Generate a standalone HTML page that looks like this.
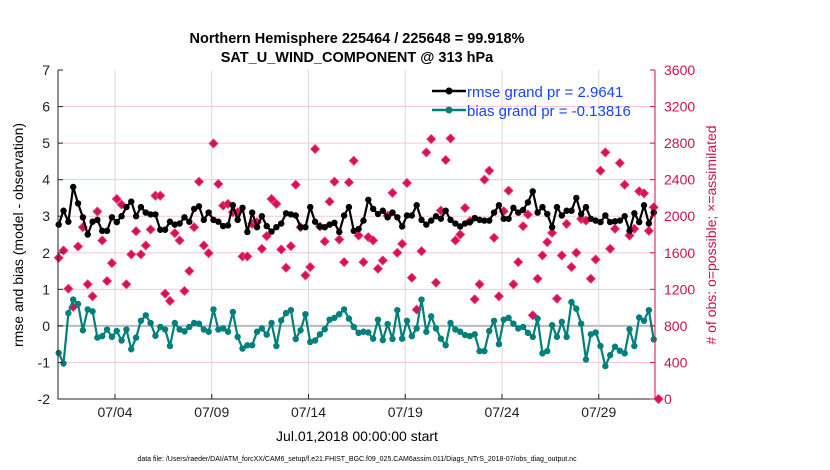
<!DOCTYPE html>
<html><head><meta charset="utf-8"><style>
html,body{margin:0;padding:0;background:#fff;}
svg{display:block;font-family:"Liberation Sans",sans-serif;}
</style></head><body>
<svg id="chart" width="830" height="470" viewBox="0 0 830 470" xmlns="http://www.w3.org/2000/svg">
<rect width="830" height="470" fill="#fff"/>
<text x="357" y="43" font-size="14.5" font-weight="bold" text-anchor="middle">Northern Hemisphere 225464 / 225648 = 99.918%</text>
<text x="357" y="62" font-size="14.5" font-weight="bold" text-anchor="middle">SAT_U_WIND_COMPONENT @ 313 hPa</text>
<g id="grid"></g>
<g id="marks"></g>
<g id="axes"></g>
<text transform="translate(23,235) rotate(-90)" font-size="14" text-anchor="middle">rmse and bias (model - observation)</text>
<text transform="translate(716,235) rotate(-90)" font-size="14" fill="#d0104c" text-anchor="middle"># of obs: o=possible; ×=assimilated</text>
<text x="357" y="441" font-size="14" text-anchor="middle">Jul.01,2018 00:00:00 start</text>
<text x="357" y="461" font-size="7" text-anchor="middle">data file: /Users/raeder/DAI/ATM_forcXX/CAM6_setup/f.e21.FHIST_BGC.f09_025.CAM6assim.011/Diags_NTrS_2018-07/obs_diag_output.nc</text>
<g>
<line x1="432" y1="91" x2="466" y2="91" stroke="#000" stroke-width="2.5"/><circle cx="449" cy="91" r="3.5" fill="#000"/>
<text x="467" y="97" font-size="15" fill="#1545ff">rmse grand pr = 2.9641</text>
<line x1="432" y1="110" x2="466" y2="110" stroke="#00807a" stroke-width="2.5"/><circle cx="449" cy="110" r="3.5" fill="#00807a"/>
<text x="467" y="116" font-size="15" fill="#1545ff">bias grand pr = -0.13816</text>
</g>
</svg>
<script>
const rmse=[2.77,3.15,2.85,3.8,3.35,2.97,2.5,2.85,2.9,2.6,2.6,2.97,2.84,3.0,3.25,3.4,3.0,3.25,3.1,3.05,3.05,2.63,2.63,2.85,2.77,2.8,2.97,2.85,3.2,3.27,2.9,3.1,2.9,2.85,2.73,2.75,3.3,2.9,3.23,2.57,3.1,2.7,3.0,2.73,2.58,2.7,2.8,3.08,3.05,3.02,2.7,2.7,3.25,2.85,2.72,2.7,2.77,2.82,2.57,3.02,3.25,2.6,2.65,
2.88,3.45,3.2,3.06,3.15,2.97,3.1,2.97,2.72,3.02,3.02,3.3,2.9,2.77,2.88,3.0,2.93,3.15,2.9,2.8,2.72,2.8,2.84,2.95,2.9,2.88,2.88,3.1,3.3,2.93,2.93,3.23,3.1,3.17,3.38,3.68,3.1,3.25,3.06,2.7,3.25,3.02,3.15,3.15,3.5,3.06,3.25,2.93,2.88,2.84,3.02,2.84,2.86,2.88,3.0,2.6,3.08,2.84,3.3,2.8,3.1];
const bias=[-0.74,-1.03,0.35,0.72,0.6,-0.12,0.45,0.4,-0.32,-0.28,-0.1,-0.3,-0.14,-0.4,-0.1,-0.64,-0.32,0.14,0.29,0.08,-0.27,-0.03,-0.1,-0.55,0.08,-0.1,-0.15,-0.03,0.08,0.06,-0.1,-0.16,0.45,-0.1,-0.07,-0.16,0.38,-0.3,-0.62,-0.53,-0.53,-0.16,-0.07,-0.24,0.08,-0.55,0.15,0.35,0.43,-0.36,-0.12,0.32,-0.44,-0.4,-0.23,-0.09,0.17,0.22,0.32,0.45,0.2,-0.03,-0.19,
-0.16,-0.18,-0.35,0.17,-0.39,0.05,-0.36,0.43,-0.35,0.14,-0.28,-0.07,0.72,-0.16,0.26,-0.07,-0.35,-0.53,0.08,-0.1,-0.16,-0.25,-0.28,-0.23,-0.69,-0.69,-0.14,0.14,-0.5,0.17,0.22,0.06,-0.07,-0.03,-0.19,-0.3,0.2,-0.75,-0.69,0.02,-0.3,0.11,-0.3,0.65,0.47,0.06,-0.92,-0.23,-0.18,-0.55,-1.1,-0.8,-0.57,-0.68,-0.75,-0.09,-0.55,0.23,0.14,0.43,-0.37];
const nobs=[1545,1625,1207,1007,1669,1880,1255,1124,2051,1735,1291,1487,2189,2127,1255,1582,1836,1582,1680,1855,2225,2225,1153,1073,1815,1735,1182,1400,1880,2378,1680,1596,2796,2353,2116,2135,2044,2044,1560,1560,1916,1935,1644,1782,2189,2135,1636,1436,1673,2345,1880,1353,1444,2735,1887,1724,2160,2378,1745,1498,2371,2607,1789,
1498,1771,1735,1425,1516,2007,2255,1600,1698,2364,1327,978,1618,2698,2844,1273,2062,2615,2851,1735,1800,2091,1945,1091,1255,2400,2498,1764,1124,2055,2280,1255,1498,1891,2018,916,1316,1571,1716,1818,1098,1571,1916,1444,1600,1971,1953,1316,1527,2498,2698,1644,1862,2582,2345,1789,1862,2273,2251,1840,2098,0];
const yTicks=[-2,-1,0,1,2,3,4,5,6,7];
const rTicks=[0,400,800,1200,1600,2000,2400,2800,3200,3600];
const xTickDays=[3,8,13,18,23,28];
const xTickLabels=["07/04","07/09","07/14","07/19","07/24","07/29"];
const t0=0.09, dt=0.25;
const L=58,R=655,T=70,B=399;
const xs=d=>115+(d-3)*19.35;
const ys=v=>B-(v+2)*(B-T)/9;
const yr=c=>B-c*(B-T)/3600;
const NS="http://www.w3.org/2000/svg";
function mk(tag,attrs,parent){const e=document.createElementNS(NS,tag);for(const k in attrs)e.setAttribute(k,attrs[k]);parent.appendChild(e);return e;}
const grid=document.getElementById('grid'),marks=document.getElementById('marks'),axes=document.getElementById('axes');
yTicks.forEach(v=>{if(v===-2||v===7)return;const l=mk('line',{x1:L,x2:R,y1:ys(v),y2:ys(v),stroke:v===0?'#bbb':'#f3c8d8','stroke-width':v===0?2:1},grid);

});
xTickDays.forEach(d=>{const l=mk('line',{x1:xs(d),x2:xs(d),y1:T,y2:B,stroke:'#d8d8d8','stroke-width':1},grid);

});
// diamonds
nobs.forEach((c,i)=>{const x=xs(t0+dt*i),y=yr(c),s=4.5;const p=mk('path',{d:`M${x} ${y-s}L${x+s} ${y}L${x} ${y+s}L${x-s} ${y}Z`,fill:'#d8105a',stroke:'#e8407a','stroke-width':0.8},marks);

});
function series(vals,color,name){const pts=vals.map((v,i)=>xs(t0+dt*i).toFixed(1)+','+ys(v).toFixed(1)).join(' ');
const pl=mk('polyline',{points:pts,fill:'none',stroke:color,'stroke-width':2.2,'stroke-linejoin':'round'},marks);


vals.forEach((v,i)=>{const c=mk('circle',{cx:xs(t0+dt*i),cy:ys(v),r:3.2,fill:color},marks);

});}
series(rmse,'#000','rmse');
series(bias,'#00807a','bias');
// axes
const ax=mk('path',{d:`M${L} ${T}L${L} ${B}L${R} ${B}`,fill:'none',stroke:'#222','stroke-width':1},axes);


const ra=mk('line',{x1:R,x2:R,y1:T,y2:B,stroke:'#d0104c','stroke-width':1},axes);


yTicks.forEach(v=>{const t=mk('text',{x:50,y:ys(v)+5,'font-size':14,'text-anchor':'end',fill:'#222'},axes);t.textContent=v;


mk('line',{x1:L,x2:L+5,y1:ys(v),y2:ys(v),stroke:'#222'},axes);});
rTicks.forEach(c=>{const t=mk('text',{x:664,y:yr(c)+5,'font-size':14,fill:'#d0104c'},axes);t.textContent=c;


mk('line',{x1:R-5,x2:R,y1:yr(c),y2:yr(c),stroke:'#d0104c'},axes);});
xTickDays.forEach((d,i)=>{const t=mk('text',{x:xs(d),y:417,'font-size':14,'text-anchor':'middle',fill:'#222'},axes);t.textContent=xTickLabels[i];


mk('line',{x1:xs(d),x2:xs(d),y1:B,y2:B-5,stroke:'#222'},axes);});
</script>
</body></html>
